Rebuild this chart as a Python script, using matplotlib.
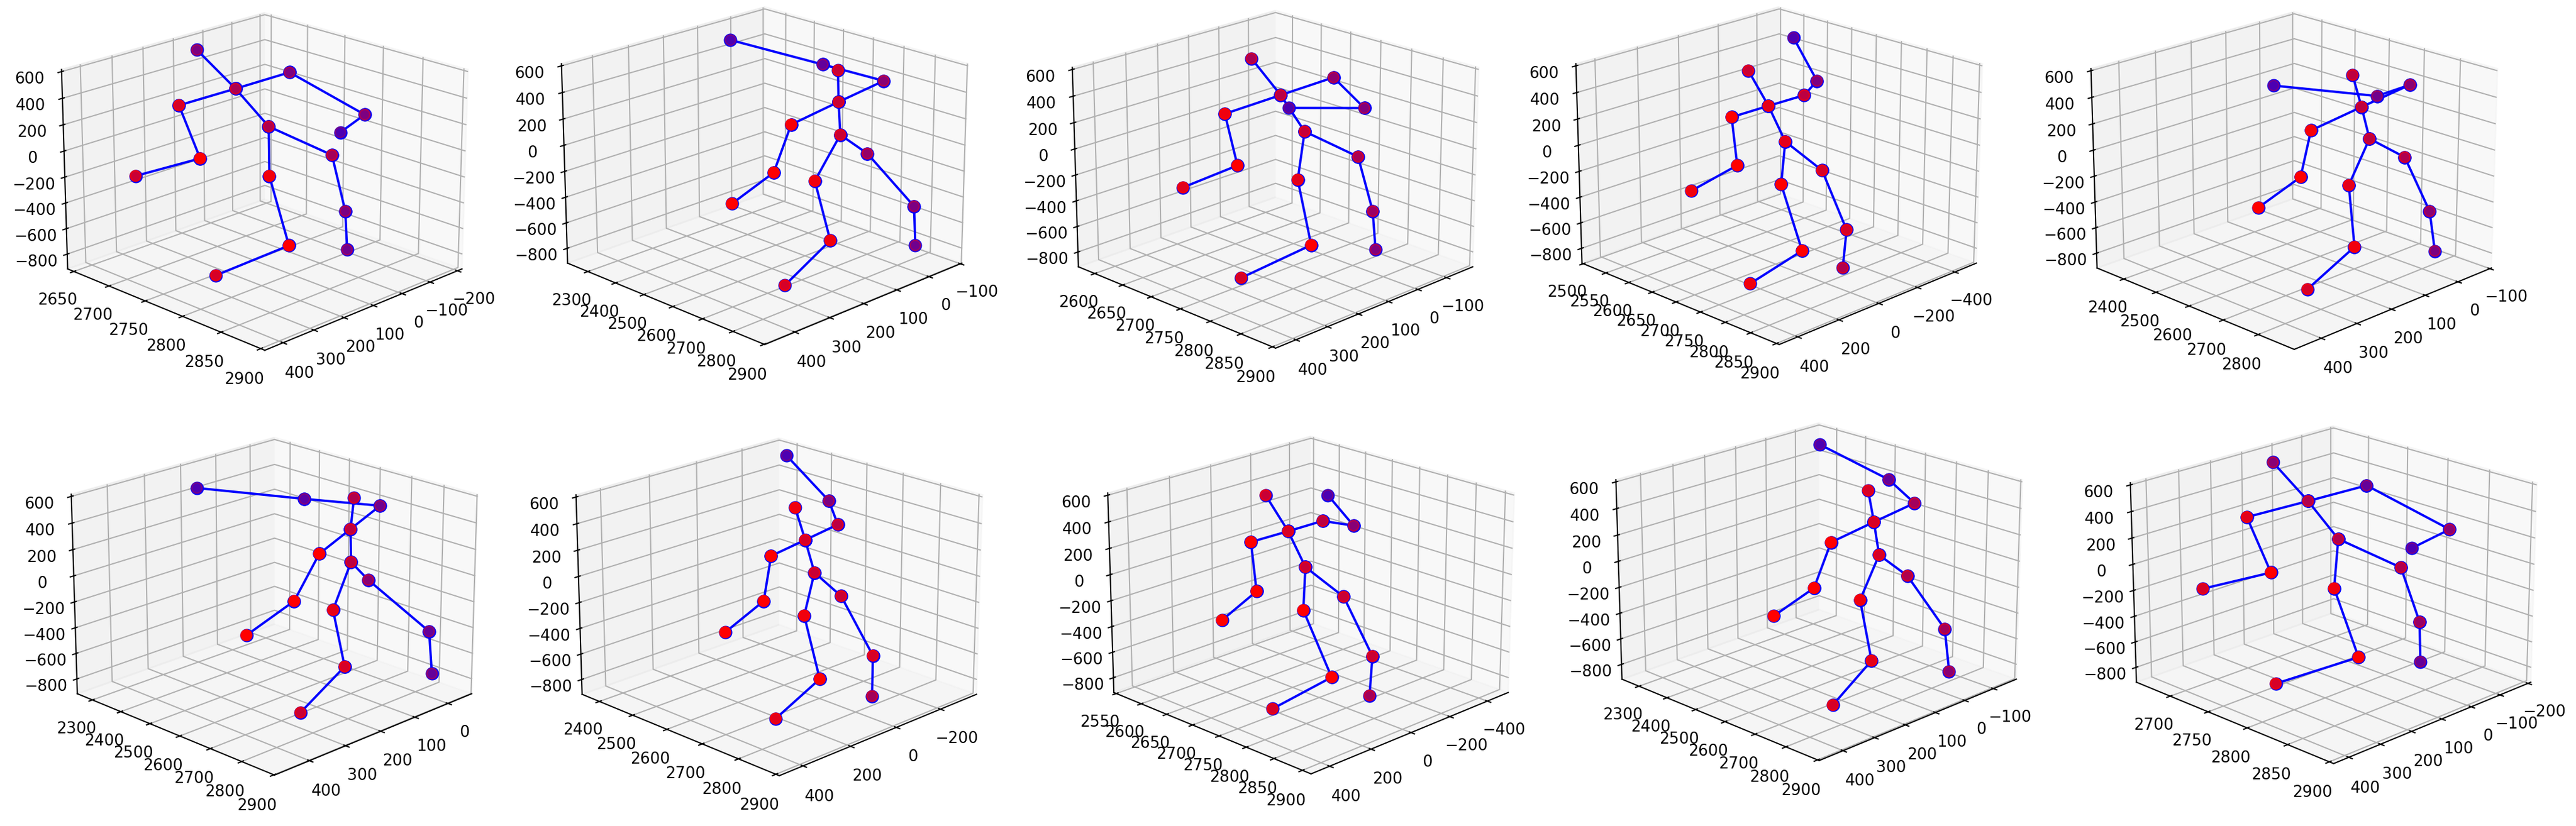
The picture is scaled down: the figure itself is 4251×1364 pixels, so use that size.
import matplotlib
matplotlib.use("Agg")
import matplotlib.pyplot as plt

# joint order: head, neck, arm a (3), arm b (3), pelvis, leg a (3), leg b (3)
x1 = [117, 132, 290, 332, 387, -28, -131, -147, 105, 213, 236, 326, -1, -42, -39]
y1 = [2681, 2739, 2728, 2773, 2709, 2748, 2808, 2771, 2772, 2815, 2849, 2790, 2814, 2817, 2821]
z1 = [604, 420, 386, 106, -110, 450, 160, -59, 174, -34, -467, -747, -43, -505, -797]
x2 = [78, 93, 225, 279, 354, -58, -20, 78, 107, 210, 217, 276, 18, -54, -51]
y2 = [2680, 2699, 2691, 2696, 2645, 2685, 2523, 2316, 2721, 2752, 2811, 2730, 2715, 2795, 2805]
z2 = [559, 347, 282, -24, -229, 375, 420, 547, 127, -105, -499, -853, -98, -510, -807]
x3 = [128, 117, 280, 304, 372, -28, -78, -17, 114, 184, 230, 313, 9, -1, -17]
y3 = [2694, 2737, 2729, 2762, 2707, 2752, 2779, 2683, 2775, 2799, 2844, 2772, 2811, 2831, 2829]
z3 = [619, 395, 363, 47, -150, 446, 214, 121, 174, -98, -477, -779, -45, -440, -756]
x4 = [54, 82, 229, 256, 366, -88, -257, -333, 71, 165, 169, 300, -20, -30, -62]
y4 = [2667, 2719, 2706, 2728, 2681, 2722, 2681, 2602, 2748, 2778, 2821, 2771, 2785, 2830, 2811]
z4 = [558, 368, 340, 23, -171, 370, 352, 564, 132, -102, -539, -785, -86, -482, -821]
x5 = [82, 85, 231, 276, 350, -55, -30, 75, 89, 184, 220, 279, 33, -20, -22]
y5 = [2673, 2702, 2702, 2718, 2673, 2707, 2637, 2435, 2729, 2763, 2815, 2741, 2776, 2800, 2815]
z5 = [538, 323, 271, -22, -223, 381, 258, 262, 109, -127, -509, -847, -40, -485, -784]
x6 = [65, 99, 224, 281, 363, -40, 38, 175, 114, 204, 201, 271, 42, -63, -46]
y6 = [2665, 2692, 2732, 2718, 2661, 2636, 2475, 2271, 2711, 2754, 2789, 2728, 2689, 2775, 2804]
z6 = [535, 347, 300, -11, -236, 369, 372, 425, 125, -121, -524, -859, -94, -525, -817]
x7 = [91, 51, 197, 245, 348, -73, -178, -204, 34, 150, 184, 264, -6, -9, -63]
y7 = [2689, 2691, 2692, 2703, 2665, 2702, 2612, 2475, 2706, 2752, 2816, 2748, 2754, 2839, 2806]
z7 = [585, 325, 290, -7, -213, 381, 430, 657, 83, -128, -520, -838, -75, -447, -830]
x8 = [87, 86, 257, 284, 392, -57, -228, -311, 50, 187, 174, 274, -20, -40, -73]
y8 = [2684, 2725, 2722, 2742, 2720, 2735, 2730, 2652, 2743, 2790, 2836, 2766, 2787, 2832, 2816]
z8 = [589, 371, 370, 45, -145, 393, 269, 367, 108, -79, -520, -814, -92, -489, -838]
x9 = [80, 88, 216, 268, 347, -54, -107, -44, 98, 185, 184, 255, 15, -33, -49]
y9 = [2665, 2692, 2681, 2679, 2629, 2686, 2551, 2381, 2719, 2744, 2781, 2727, 2731, 2808, 2810]
z9 = [554, 344, 280, -20, -205, 378, 427, 627, 124, -125, -554, -878, -90, -476, -820]
x10 = [119, 130, 299, 322, 395, -72, -136, -145, 102, 215, 229, 330, 15, -17, -61]
y10 = [2703, 2752, 2742, 2781, 2724, 2749, 2829, 2780, 2779, 2817, 2852, 2789, 2824, 2836, 2822]
z10 = [633, 436, 419, 101, -81, 407, 173, -76, 180, -27, -456, -714, -14, -434, -816]

xs = [x1, x2, x3, x4, x5, x6, x7, x8, x9, x10]
ys = [y1, y2, y3, y4, y5, y6, y7, y8, y9, y10]
zs = [z1, z2, z3, z4, z5, z6, z7, z8, z9, z10]

# bones as pairs of joint indices
bones = [(0, 1), (1, 2), (2, 3), (3, 4), (1, 5), (5, 6), (6, 7), (1, 8),
         (8, 9), (9, 10), (10, 11), (8, 12), (12, 13), (13, 14)]

# axis limits and ticks of every panel
xlims = [(-217, 458), (-105, 484), (-194, 463), (-518, 488), (-105, 474),
         (-73, 494), (-369, 497), (-514, 488), (-182, 474), (-210, 447)]
ylims = [(2641, 2905), (2225, 2902), (2570, 2905), (2497, 2905), (2315, 2900),
         (2246, 2902), (2347, 2909), (2545, 2915), (2238, 2905), (2654, 2905)]
zlim = (-917, 616)
xticks = [[-200, -100, 0, 100, 200, 300, 400],
          [-100, 0, 100, 200, 300, 400],
          [-100, 0, 100, 200, 300, 400],
          [-400, -200, 0, 200, 400],
          [-100, 0, 100, 200, 300, 400],
          [0, 100, 200, 300, 400],
          [-200, 0, 200, 400],
          [-400, -200, 0, 200, 400],
          [-100, 0, 100, 200, 300, 400],
          [-200, -100, 0, 100, 200, 300, 400]]
yticks = [[2650, 2700, 2750, 2800, 2850, 2900],
          [2300, 2400, 2500, 2600, 2700, 2800, 2900],
          [2600, 2650, 2700, 2750, 2800, 2850, 2900],
          [2500, 2550, 2600, 2650, 2700, 2750, 2800, 2850, 2900],
          [2400, 2500, 2600, 2700, 2800],
          [2300, 2400, 2500, 2600, 2700, 2800, 2900],
          [2400, 2500, 2600, 2700, 2800, 2900],
          [2550, 2600, 2650, 2700, 2750, 2800, 2850, 2900],
          [2300, 2400, 2500, 2600, 2700, 2800, 2900],
          [2700, 2750, 2800, 2850, 2900]]
zticks = [-800, -600, -400, -200, 0, 200, 400, 600]

W, H, DPI = 4251, 1364, 185
SIDE = 726

# pixel position (from top left) of the centre of each 3D box
centres = [(437, 301.5), (1262, 292), (2105, 298), (2936, 292), (3786, 300),
           (453, 1003), (1286, 1004), (2163.5, 1001), (3002, 979), (3851, 984)]

fig = plt.figure(figsize=(W / DPI, H / DPI), dpi=DPI)

for i in range(10):
    cx, cy = centres[i]
    rect = [(cx - 0.5135 * SIDE) / W, 1 - (cy + 0.4865 * SIDE) / H, SIDE / W, SIDE / H]
    ax = fig.add_axes(rect, projection="3d", computed_zorder=False)
    ax.patch.set_alpha(0)

    for a, b in bones:
        ax.plot([xs[i][a], xs[i][b]], [ys[i][a], ys[i][b]], [zs[i][a], zs[i][b]],
                color="b", marker="o", markersize=7.6, linewidth=1.5, zorder=2)
    ax.scatter(xs[i], ys[i], zs[i], color="r", s=46, zorder=3)

    ax.set_xlim(*xlims[i])
    ax.set_ylim(*ylims[i])
    ax.set_zlim(*zlim)
    ax.set_xticks(xticks[i])
    ax.set_yticks(yticks[i])
    ax.set_zticks(zticks)
    ax.view_init(20, 45)

fig.savefig("out.png", dpi=DPI)
